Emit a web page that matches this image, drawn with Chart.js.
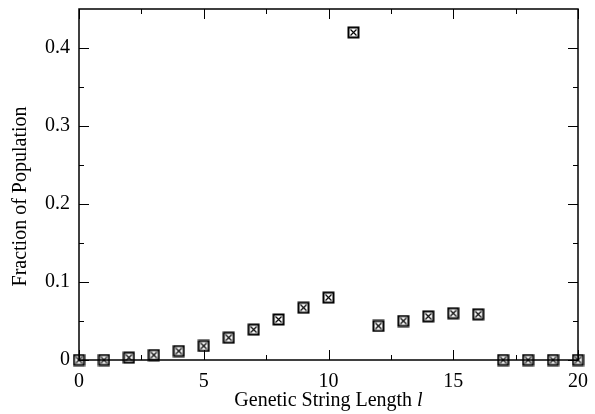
<!DOCTYPE html>
<html>
<head>
<meta charset="utf-8">
<script src="https://cdn.jsdelivr.net/npm/chart.js@4.4.1/dist/chart.umd.min.js"></script>
<style>
  html, body { margin: 0; padding: 0; background: #fff; }
  #wrap { width: 595px; height: 414px; }
</style>
</head>
<body>
<div id="wrap"><canvas id="popChart" width="595" height="414"></canvas></div>
<script>
// string lengths and the fraction of population at each
const lengths = [0, 1, 2, 3, 4, 5, 6, 7, 8, 9, 10, 11, 12, 13, 14, 15, 16, 17, 18, 19, 20];
const fractions = [0, 0, 0.003, 0.0064, 0.0115, 0.018, 0.0286, 0.039, 0.052, 0.067, 0.080,
                   0.42, 0.0436, 0.050, 0.056, 0.060, 0.0586, 0, 0, 0, 0];
const xTicks = [0, 5, 10, 15, 20];
const yTicks = [0, 0.1, 0.2, 0.3, 0.4];
const xMinor = [2.5, 7.5, 12.5, 17.5];
const yMinor = [0.05, 0.15, 0.25, 0.35];

const serif = "'Liberation Serif', 'DejaVu Serif', serif";

// square with an X inside
function makeMarker() {
    var c = document.createElement('canvas');
    c.width = 13; c.height = 13;
    var g = c.getContext('2d');
    g.fillStyle = '#fff';
    g.fillRect(1, 1, 11, 11);
    g.strokeStyle = '#000';
    g.lineWidth = 2;
    g.strokeRect(1.5, 1.5, 10, 10);
    g.lineWidth = 1.2;
    g.beginPath();
    g.moveTo(3.5, 3.5); g.lineTo(9.5, 9.5);
    g.moveTo(9.5, 3.5); g.lineTo(3.5, 9.5);
    g.stroke();
    return c;
}

const frameTicks = {
    id: 'frameTicks',
    afterDraw(chart) {
        var ctx = chart.ctx, a = chart.chartArea;
        var xs = chart.scales.x, ys = chart.scales.y;
        ctx.save();
        ctx.strokeStyle = '#000';
        ctx.lineWidth = 1;
        ctx.beginPath();
        xTicks.forEach(function (v) {
            var px = Math.round(xs.getPixelForValue(v)) + 0.5;
            ctx.moveTo(px, a.bottom); ctx.lineTo(px, a.bottom - 10);
            ctx.moveTo(px, a.top); ctx.lineTo(px, a.top + 10);
        });
        xMinor.forEach(function (v) {
            var px = Math.round(xs.getPixelForValue(v)) + 0.5;
            ctx.moveTo(px, a.bottom); ctx.lineTo(px, a.bottom - 5);
            ctx.moveTo(px, a.top); ctx.lineTo(px, a.top + 5);
        });
        yTicks.forEach(function (v) {
            var py = Math.round(ys.getPixelForValue(v)) + 0.5;
            ctx.moveTo(a.left, py); ctx.lineTo(a.left + 10, py);
            ctx.moveTo(a.right, py); ctx.lineTo(a.right - 10, py);
        });
        yMinor.forEach(function (v) {
            var py = Math.round(ys.getPixelForValue(v)) + 0.5;
            ctx.moveTo(a.left, py); ctx.lineTo(a.left + 5, py);
            ctx.moveTo(a.right, py); ctx.lineTo(a.right - 5, py);
        });
        ctx.stroke();
        // frame
        ctx.lineWidth = 1.5;
        ctx.strokeRect(a.left, a.top, a.right - a.left, a.bottom - a.top);
        ctx.restore();
    }
};

const axisTitles = {
    id: 'axisTitles',
    afterDraw(chart) {
        var ctx = chart.ctx, a = chart.chartArea;
        ctx.save();
        ctx.fillStyle = '#000';
        ctx.textBaseline = 'middle';
        // x title with italic l
        var main = 'Genetic String Length ';
        ctx.font = '20px ' + serif;
        var w1 = ctx.measureText(main).width;
        ctx.font = 'italic 20px ' + serif;
        var w2 = ctx.measureText('l').width;
        var x0 = (a.left + a.right) / 2 - (w1 + w2) / 2;
        ctx.textAlign = 'left';
        ctx.font = '20px ' + serif;
        ctx.fillText(main, x0, 401);
        ctx.font = 'italic 20px ' + serif;
        ctx.fillText('l', x0 + w1, 401);
        // y title
        ctx.font = '20px ' + serif;
        ctx.translate(21, (a.top + a.bottom) / 2 + 12);
        ctx.rotate(-Math.PI / 2);
        ctx.textAlign = 'center';
        ctx.fillText('Fraction of Population', 0, 0);
        ctx.restore();
    }
};

new Chart(document.getElementById('popChart').getContext('2d'), {
    type: 'scatter',
    data: {
        datasets: [{
            data: lengths.map(function (l, i) { return { x: l, y: fractions[i] }; }),
            pointStyle: makeMarker(),
            pointRadius: 6,
            showLine: false,
            clip: false
        }]
    },
    options: {
        responsive: false,
        animation: false,
        layout: { padding: { top: 9, right: 17, left: 0, bottom: 0 } },
        plugins: { legend: { display: false }, tooltip: { enabled: false } },
        scales: {
            x: {
                type: 'linear', min: 0, max: 20,
                afterBuildTicks: function (s) { s.ticks = xTicks.map(function (v) { return { value: v }; }); },
                afterFit: function (s) { s.height = 54; s.paddingLeft = 0; s.paddingRight = 0; },
                grid: { display: false, drawTicks: false },
                border: { display: false },
                ticks: { color: '#000', padding: 10, font: { family: serif, size: 20 } }
            },
            y: {
                type: 'linear', min: 0, max: 0.45,
                afterBuildTicks: function (s) { s.ticks = yTicks.map(function (v) { return { value: v }; }); },
                afterFit: function (s) { s.width = 79; s.paddingTop = 0; s.paddingBottom = 0; },
                grid: { display: false, drawTicks: false },
                border: { display: false },
                ticks: { color: '#000', padding: 9, font: { family: serif, size: 20 } }
            }
        }
    },
    plugins: [frameTicks, axisTitles]
});
</script>
</body>
</html>
